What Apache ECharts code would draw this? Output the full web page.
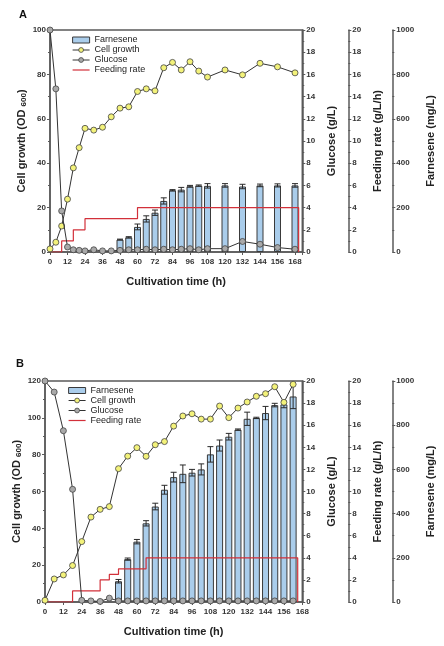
<!DOCTYPE html>
<html><head><meta charset="utf-8">
<script src="https://cdn.jsdelivr.net/npm/echarts@6/dist/echarts.min.js"></script>
<style>html,body{margin:0;padding:0;background:#fff;}#c{width:444px;height:646px;}</style>
</head><body><div id="c"></div>
<script>
// ---------- Panel A data ----------
const timeA = [0,4,8,12,16,20,24,30,36,42,48,54,60,66,72,78,84,90,96,102,108,120,132,144,156,168];
const growthA = [1.4,4.4,11.7,23.8,37.9,47,55.7,54.9,56.2,60.9,64.8,65.4,72.3,73.5,72.6,83,85.4,82,85.7,81.5,78.8,82,79.8,85,83.4,80.7];
const glucoseA = [20,14.7,3.7,0.45,0.2,0.15,0.1,0.2,0.1,0.1,0.15,0.2,0.2,0.25,0.2,0.25,0.2,0.25,0.3,0.2,0.3,0.3,0.95,0.7,0.4,0.25];
const farnTimeA = [48,54,60,66,72,78,84,90,96,102,108,120,132,144,156,168];
const farnA = [56,66,113,149,177,230,278,281,296,299,298,300,295,300,300,300];
const farnErrA = [2,3,13,14,12,14,3,10,4,3,10,8,10,6,7,8];
const feedTimeA = [0,8,16,24,60,170.5];
const feedA = [0,1,2,3,4,0];

// ---------- Panel B data ----------
const timeB = [0,6,12,18,24,30,36,42,48,54,60,66,72,78,84,90,96,102,108,114,120,126,132,138,144,150,156,162];
const growthB = [0.9,12.5,14.7,19.8,32.8,46.1,50.3,51.8,72.4,79.2,83.8,79.1,85.4,87.1,95.5,101,102.2,99.3,99.3,106.4,100.1,105.3,108.6,111.7,113.1,116.9,108.4,118.2];
const glucoseB = [20,19.0,15.5,10.2,0.15,0.1,0.05,0.35,0.1,0.1,0.1,0.1,0.1,0.1,0.1,0.1,0.1,0.1,0.1,0.1,0.1,0.1,0.1,0.1,0.1,0.1,0.1,0.1];
const farnTimeB = [48,54,60,66,72,78,84,90,96,102,108,114,120,126,132,138,144,150,156,162];
const farnB = [94,194,273,356,432,508,565,580,585,600,668,708,748,780,829,833,855,891,894,930];
const farnErrB = [8,5,10,12,15,20,22,40,15,25,35,25,15,3,30,3,30,8,15,55];
const feedTimeB = [0,18,36,42,48,66,165];
const feedB = [0,1,2,2.5,3,4,0];

// ---------- tick labels ----------
const xTicks = [0,12,24,36,48,60,72,84,96,108,120,132,144,156,168];
const seriesNames = ['Farnesene','Cell growth','Glucose','Feeding rate'];
const axisTitles = {x:'Cultivation time (h)', growth:'Cell growth (OD {s|600})', glucose:'Glucose (g/L)', feed:'Feeding rate (g/L/h)', farn:'Farnesene (mg/L)'};

const AX = '#5a5a5a', TXT = '#333';
const FONT = '"Liberation Sans", Arial, sans-serif';
const C_BAR = '#AACDEB', C_YEL = '#F3F27A', C_GRY = '#A9A9A9', C_RED = '#D2303A';
const labelStyle = {fontSize:8, fontWeight:'bold', color:TXT, fontFamily:FONT};
const nameStyle = {fontSize:11, fontWeight:'bold', color:'#222', fontFamily:FONT,
  rich:{s:{fontSize:8, fontWeight:'bold', color:'#222', fontFamily:FONT, padding:[4,0,0,0]}}};

function yAx(gi, o){
  return Object.assign({
    gridIndex:gi, type:'value', min:0,
    axisLine:{show:true, onZero:false, lineStyle:{color:AX, width:1.5}},
    axisTick:{show:true, length:3, lineStyle:{color:AX}},
    minorTick:{show:true, splitNumber:2, length:2, lineStyle:{color:AX}},
    splitLine:{show:false}, minorSplitLine:{show:false},
    axisLabel:Object.assign({margin:4, formatter:v => String(v)}, labelStyle),
    nameLocation:'middle', nameRotate:90, nameTextStyle:nameStyle
  }, o);
}

const grids = [
  {left:50, top:30, width:261, height:222, show:true, borderColor:AX, borderWidth:1.5, backgroundColor:'transparent'},
  {left:45, top:381, width:263, height:221, show:true, borderColor:AX, borderWidth:1.5, backgroundColor:'transparent'}
];
const xMax = [173, 168];

const xAxes = [0,1].map(gi => ({
  gridIndex:gi, type:'value', min:0, max:xMax[gi], interval:12,
  axisLine:{show:true, onZero:false, lineStyle:{color:AX, width:1.5}},
  axisTick:{show:true, length:3, lineStyle:{color:AX}},
  splitLine:{show:false},
  axisLabel:Object.assign({margin:6, showMaxLabel:true, formatter:v => xTicks.includes(v) ? String(v) : ''}, labelStyle),
  name:axisTitles.x, nameLocation:'middle', nameGap:24,
  nameTextStyle:{fontSize:11, fontWeight:'bold', color:'#222', fontFamily:FONT}
}));

const yAxes = [];
[[0,100],[1,120]].forEach(([gi, gmax]) => {
  yAxes.push(yAx(gi, {position:'left', max:gmax, interval:20, name:axisTitles.growth, nameGap:22, nameMoveOverlap:false}));
  yAxes.push(yAx(gi, {position:'right', offset:0, max:20, interval:2, name:axisTitles.glucose, nameGap:21}));
  yAxes.push(yAx(gi, {position:'right', offset:46, max:20, interval:2, name:axisTitles.feed, nameGap:18}));
  yAxes.push(yAx(gi, {position:'right', offset:90, max:1000, interval:200, name:axisTitles.farn, nameGap:21}));
});

function panelSeries(gi, t, growth, glu, ft, farn, ferr, fdt, fd){
  const b = gi*4;
  return [
    {name:seriesNames[0], type:'bar', xAxisIndex:gi, yAxisIndex:b+3, barWidth:7, z:1,
     itemStyle:{color:C_BAR, borderColor:'#3a3a3a', borderWidth:1},
     data:ft.map((x,i)=>[x, farn[i]])},
    {name:'err'+gi, type:'custom', xAxisIndex:gi, yAxisIndex:b+3, z:3, silent:true,
     encode:{x:0, y:[1,2]},
     data:ft.map((x,i)=>[x, farn[i]-ferr[i], farn[i]+ferr[i]]),
     renderItem:(params, api) => {
       const x = api.value(0);
       const p1 = api.coord([x, api.value(1)]), p2 = api.coord([x, api.value(2)]);
       const w = 3, st = {stroke:'#2a2a2a', lineWidth:1};
       return {type:'group', children:[
         {type:'line', shape:{x1:p1[0], y1:p1[1], x2:p2[0], y2:p2[1]}, style:st},
         {type:'line', shape:{x1:p2[0]-w, y1:p2[1], x2:p2[0]+w, y2:p2[1]}, style:st},
         {type:'line', shape:{x1:p1[0]-w, y1:p1[1], x2:p1[0]+w, y2:p1[1]}, style:st}
       ]};
     }},
    {name:seriesNames[3], type:'line', xAxisIndex:gi, yAxisIndex:b+2, step:'end', symbol:'none', z:4,
     lineStyle:{color:C_RED, width:1.2}, itemStyle:{color:C_RED},
     data:fdt.map((x,i)=>[x, fd[i]])},
    {name:seriesNames[1], type:'line', xAxisIndex:gi, yAxisIndex:b, symbol:'circle', symbolSize:6, z:5,
     lineStyle:{color:'#333', width:1}, itemStyle:{color:C_YEL, borderColor:'#444', borderWidth:0.8},
     data:t.map((x,i)=>[x, growth[i]])},
    {name:seriesNames[2], type:'line', xAxisIndex:gi, yAxisIndex:b+1, symbol:'circle', symbolSize:6, z:6,
     lineStyle:{color:'#333', width:1}, itemStyle:{color:C_GRY, borderColor:'#444', borderWidth:0.8},
     data:t.map((x,i)=>[x, glu[i]])}
  ];
}

function legend(left, top){
  return {
    orient:'vertical', left:left, top:top, itemWidth:17, itemHeight:6, itemGap:1, padding:0,
    selectedMode:false,
    textStyle:{fontSize:9, lineHeight:9, color:'#222', fontFamily:FONT},
    data:[
      {name:seriesNames[0], icon:'rect', itemStyle:{color:C_BAR, borderColor:'#3a3a3a', borderWidth:1}},
      {name:seriesNames[1], itemStyle:{color:C_YEL, borderColor:'#444', borderWidth:0.8}, lineStyle:{color:'#333', width:1}},
      {name:seriesNames[2], itemStyle:{color:C_GRY, borderColor:'#444', borderWidth:0.8}, lineStyle:{color:'#333', width:1}},
      {name:seriesNames[3], itemStyle:{opacity:0}, lineStyle:{color:C_RED, width:1.2}}
    ]
  };
}

const chart = echarts.init(document.getElementById('c'), null, {renderer:'canvas'});
chart.setOption({
  animation:false, backgroundColor:'#fff',
  grid:grids, xAxis:xAxes, yAxis:yAxes,
  legend:[legend(72,35.5), legend(68,386)],
  graphic:[
    {type:'text', left:19, top:9, style:{text:'A', font:'bold 11px '+FONT, fill:'#111'}},
    {type:'text', left:16, top:358, style:{text:'B', font:'bold 11px '+FONT, fill:'#111'}}
  ],
  series:[
    ...panelSeries(0, timeA, growthA, glucoseA, farnTimeA, farnA, farnErrA, feedTimeA, feedA),
    ...panelSeries(1, timeB, growthB, glucoseB, farnTimeB, farnB, farnErrB, feedTimeB, feedB)
  ]
});
</script></body></html>
